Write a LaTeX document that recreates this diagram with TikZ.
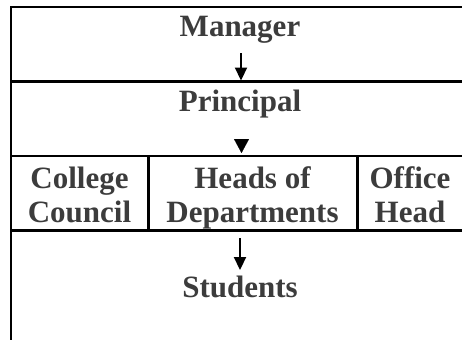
\documentclass[tikz,border=0pt]{standalone}
\usepackage{fontspec}
\setmainfont{Liberation Serif}
\usetikzlibrary{arrows.meta}
\definecolor{txt}{HTML}{3C3C3C}
\begin{document}
\begin{tikzpicture}[x=1pt,y=-1pt,
  lbl/.style={text=txt, font=\bfseries\fontsize{31}{34}\selectfont, inner sep=0pt, anchor=base},
  rule/.style={line width=2.6pt, black},
  arr/.style={line width=2.2pt, -{Triangle[width=12pt,length=13pt]}},
  tri/.style={line width=0.1pt, -{Triangle[width=15pt,length=14pt]}}]
\useasboundingbox (0,0) rectangle (462,340);
\fill[white] (0,0) rectangle (462,340);
% table rules
\draw[rule] (462,7) -- (11,7) -- (11,340);
\draw[rule] (11,81.5) -- (462,81.5);
\draw[rule] (11,156) -- (462,156);
\draw[rule] (11,230.5) -- (462,230.5);
\draw[rule] (148.5,156) -- (148.5,230.5);
\draw[rule] (357.5,156) -- (357.5,230.5);
% labels
\node[lbl] (mgr) at (240,36.7) {Manager};
\node[lbl] (prin) at (240,111.7) {Principal};
\node[lbl] (cc1) at (79.5,188) {College};
\node[lbl] (cc2) at (79.5,222) {Council};
\node[lbl] (hd1) at (252.5,188) {Heads of};
\node[lbl] (hd2) at (252.5,222) {Departments};
\node[lbl] (oh1) at (410,188) {Office};
\node[lbl] (oh2) at (410,222) {Head};
\node[lbl] (stu) at (240,297) {Students};
% arrows
\coordinate (a1s) at (241,53);
\coordinate (a1e) at (241,80.5);
\draw[arr] (a1s) -- (a1e);
\coordinate (a2s) at (241.5,139);
\coordinate (a2e) at (241.5,153);
\draw[tri] (a2s) -- (a2e);
\coordinate (a3s) at (240,238);
\coordinate (a3e) at (240,270);
\draw[arr] (a3s) -- (a3e);
\end{tikzpicture}
\end{document}
